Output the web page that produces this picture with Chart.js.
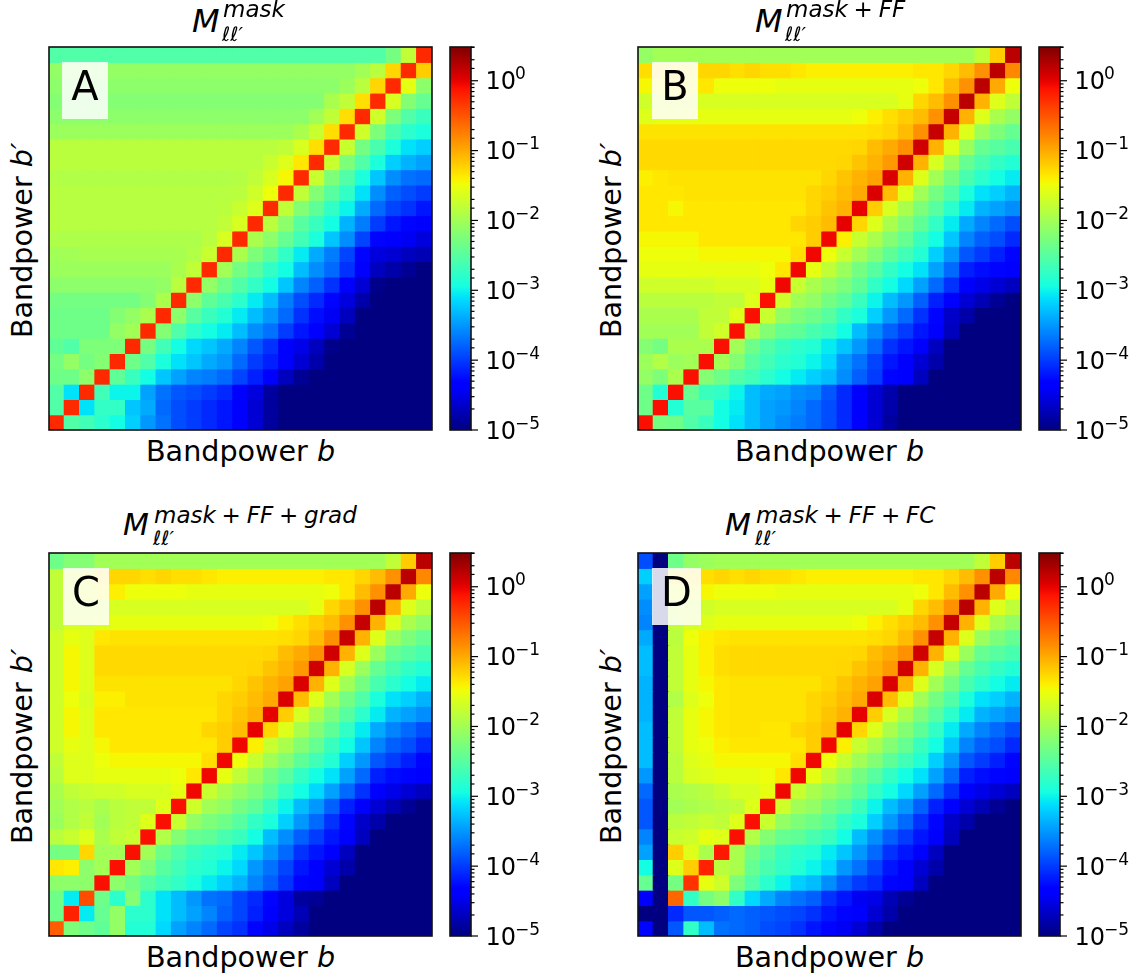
<!DOCTYPE html>
<html>
<head>
<meta charset="utf-8">
<script src="https://cdn.jsdelivr.net/npm/chart.js@4"></script>
<style>
  body { margin: 0; background: #fff; font-family: "DejaVu Sans", sans-serif; color: #000; }
  #page { position: relative; width: 1141px; height: 979px; overflow: hidden; }
  canvas { position: absolute; }
  .txt { position: absolute; white-space: pre; line-height: 1; }
  .badge { position: absolute; background: rgba(255,255,255,0.85); text-align: center; font-size: 40px; line-height: 49px; }
  i { font-style: oblique; }
</style>
</head>
<body>
<div id="page"></div>
<script>
"use strict";
// every number below is log10 of the matrix value
// rows go top to bottom, columns left to right
const panelA = [
  [-2.55,-2.55,-2.55,-2.55,-2.55,-2.55,-2.55,-2.55,-2.55,-2.55,-2.55,-2.55,-2.55,-2.55,-2.55,-2.55,-2.55,-2.55,-2.55,-2.55,-2.55,-2.55,-2.3,-1.8,-0.25],
  [-2.1,-2.1,-2.1,-2.1,-2.1,-2.1,-2.1,-2.1,-2.1,-2.1,-2.1,-2.1,-2.1,-2.1,-2.1,-2.1,-2.1,-2.1,-2.1,-2.1,-2.0,-1.85,-1.25,-0.25,-1.2],
  [-2.15,-2.15,-2.15,-2.15,-2.15,-2.15,-2.15,-2.15,-2.15,-2.15,-2.15,-2.15,-2.15,-2.15,-2.15,-2.15,-2.15,-2.15,-2.15,-2.05,-1.85,-1.25,-0.25,-1.55,-2.15],
  [-2.2,-2.2,-2.2,-2.2,-2.2,-2.2,-2.2,-2.2,-2.2,-2.2,-2.2,-2.2,-2.2,-2.2,-2.2,-2.2,-2.2,-2.2,-1.95,-1.8,-1.3,-0.25,-1.65,-2.2,-2.4],
  [-2.15,-2.15,-2.15,-2.15,-2.15,-2.15,-2.15,-2.15,-2.15,-2.15,-2.15,-2.15,-2.15,-2.15,-2.15,-2.15,-2.15,-2.0,-1.8,-1.3,-0.25,-1.7,-2.25,-2.55,-2.7],
  [-2.05,-2.05,-2.05,-2.05,-2.05,-2.05,-2.05,-2.05,-2.05,-2.05,-2.05,-2.05,-2.05,-2.05,-2.05,-2.05,-1.95,-1.75,-1.3,-0.25,-1.7,-2.25,-2.6,-2.8,-2.9],
  [-1.85,-1.85,-1.85,-1.85,-1.85,-1.85,-1.85,-1.85,-1.85,-1.85,-1.85,-1.85,-1.85,-1.85,-1.85,-1.8,-1.65,-1.3,-0.25,-1.75,-2.3,-2.6,-2.9,-3.1,-3.2],
  [-1.85,-1.85,-1.85,-1.85,-1.85,-1.85,-1.85,-1.85,-1.85,-1.85,-1.85,-1.85,-1.85,-1.85,-1.75,-1.6,-1.35,-0.25,-1.75,-2.25,-2.55,-2.9,-3.2,-3.35,-3.45],
  [-1.9,-1.9,-1.9,-1.9,-1.9,-1.9,-1.9,-1.9,-1.9,-1.9,-1.9,-1.9,-1.88,-1.8,-1.65,-1.45,-0.25,-1.75,-2.25,-2.55,-2.9,-3.25,-3.55,-3.7,-3.75],
  [-1.87,-1.87,-1.87,-1.87,-1.87,-1.87,-1.87,-1.87,-1.87,-1.87,-1.87,-1.87,-1.85,-1.7,-1.5,-0.25,-1.8,-2.2,-2.5,-2.75,-3.1,-3.55,-3.8,-3.9,-4.0],
  [-1.87,-1.87,-1.87,-1.87,-1.87,-1.87,-1.87,-1.87,-1.87,-1.87,-1.87,-1.85,-1.75,-1.6,-0.25,-1.8,-2.2,-2.45,-2.75,-3.0,-3.4,-3.75,-3.95,-4.05,-4.2],
  [-1.87,-1.87,-1.87,-1.87,-1.87,-1.87,-1.87,-1.87,-1.87,-1.87,-1.87,-1.8,-1.65,-0.25,-1.85,-2.15,-2.5,-2.7,-2.95,-3.35,-3.65,-4.0,-4.2,-4.3,-4.4],
  [-1.92,-1.92,-1.92,-1.92,-1.92,-1.92,-1.92,-1.92,-1.92,-1.92,-1.85,-1.65,-0.25,-1.95,-2.15,-2.4,-2.65,-2.9,-3.25,-3.55,-3.95,-4.3,-4.4,-4.45,-4.55],
  [-2.0,-2.0,-1.97,-1.97,-1.97,-1.97,-1.97,-1.97,-1.97,-1.9,-1.75,-0.25,-1.95,-2.25,-2.45,-2.75,-3.05,-3.4,-3.65,-3.95,-4.3,-4.55,-4.6,-4.7,-4.75],
  [-2.05,-2.05,-2.05,-2.05,-2.05,-2.05,-2.05,-2.05,-1.95,-1.8,-0.25,-2.0,-2.3,-2.5,-2.75,-2.95,-3.3,-3.55,-3.75,-4.05,-4.4,-4.7,-4.8,-4.9,-5],
  [-2.15,-2.15,-2.15,-2.15,-2.15,-2.15,-2.15,-2.1,-1.85,-0.25,-2.1,-2.35,-2.55,-2.75,-2.95,-3.25,-3.6,-3.8,-4.05,-4.4,-4.6,-4.95,-5,-5,-5],
  [-2.3,-2.3,-2.3,-2.3,-2.3,-2.3,-2.2,-1.95,-0.25,-2.15,-2.45,-2.6,-2.8,-3.05,-3.3,-3.65,-3.9,-4.1,-4.3,-4.55,-4.8,-5,-5,-5,-5],
  [-2.35,-2.35,-2.35,-2.35,-2.2,-2.1,-1.95,-0.25,-2.15,-2.5,-2.7,-2.85,-3.05,-3.3,-3.5,-3.75,-4.05,-4.25,-4.45,-4.7,-5,-5,-5,-5,-5],
  [-2.35,-2.35,-2.35,-2.35,-2.1,-2.0,-0.25,-2.2,-2.55,-2.8,-2.95,-3.05,-3.3,-3.55,-3.7,-4.0,-4.2,-4.4,-4.6,-4.9,-5,-5,-5,-5,-5],
  [-2.45,-2.55,-2.25,-2.25,-2.25,-0.25,-2.3,-2.65,-2.95,-3.15,-3.25,-3.4,-3.6,-3.85,-4.05,-4.4,-4.5,-4.7,-4.95,-5,-5,-5,-5,-5,-5],
  [-2.3,-2.1,-2.3,-2.2,-0.25,-2.35,-2.55,-2.9,-3.1,-3.25,-3.4,-3.5,-3.75,-4.0,-4.15,-4.4,-4.6,-4.8,-5,-5,-5,-5,-5,-5,-5],
  [-2.35,-2.35,-2.15,-0.25,-2.45,-2.7,-2.95,-3.25,-3.45,-3.6,-3.65,-3.75,-3.95,-4.15,-4.4,-4.7,-4.9,-5,-5,-5,-5,-5,-5,-5,-5],
  [-2.55,-3.1,-0.25,-2.65,-3.0,-3.0,-3.45,-3.7,-3.85,-3.9,-4.0,-4.1,-4.35,-4.55,-4.85,-5,-5,-5,-5,-5,-5,-5,-5,-5,-5],
  [-2.55,-0.25,-3.1,-2.75,-2.75,-3.25,-3.4,-3.75,-3.9,-4.0,-4.1,-4.2,-4.35,-4.6,-4.85,-5,-5,-5,-5,-5,-5,-5,-5,-5,-5],
  [-0.25,-2.55,-2.65,-2.8,-2.95,-3.2,-3.5,-3.7,-3.9,-4.0,-4.1,-4.2,-4.4,-4.6,-4.85,-5,-5,-5,-5,-5,-5,-5,-5,-5,-5]
];
const panelB = [
  [-2.1,-2.0,-2.0,-2.0,-2.0,-2.0,-2.0,-2.0,-2.0,-2.0,-2.0,-2.0,-2.0,-2.0,-2.0,-2.0,-2.0,-2.0,-2.0,-2.0,-2.0,-2.0,-1.8,-1.2,0.2],
  [-1.3,-1.3,-1.35,-1.35,-1.25,-1.25,-1.3,-1.25,-1.3,-1.3,-1.35,-1.4,-1.4,-1.4,-1.4,-1.4,-1.4,-1.4,-1.35,-1.35,-1.25,-1.1,-0.85,0.2,-0.8],
  [-1.45,-1.45,-1.45,-1.45,-1.35,-1.5,-1.5,-1.5,-1.5,-1.55,-1.55,-1.55,-1.55,-1.55,-1.55,-1.55,-1.55,-1.55,-1.5,-1.35,-1.1,-0.85,0.2,-1.0,-1.5],
  [-1.7,-1.65,-1.65,-1.65,-1.65,-1.65,-1.65,-1.65,-1.65,-1.65,-1.65,-1.65,-1.65,-1.65,-1.65,-1.65,-1.65,-1.55,-1.25,-1.1,-0.85,0.2,-1.05,-1.6,-1.8],
  [-1.6,-1.55,-1.55,-1.55,-1.55,-1.55,-1.55,-1.55,-1.55,-1.55,-1.55,-1.55,-1.55,-1.55,-1.5,-1.4,-1.3,-1.2,-1.1,-0.85,0.15,-1.05,-1.6,-1.95,-2.1],
  [-1.33,-1.33,-1.33,-1.33,-1.33,-1.33,-1.33,-1.33,-1.33,-1.33,-1.33,-1.33,-1.33,-1.33,-1.33,-1.3,-1.25,-1.1,-0.85,0.15,-1.05,-1.6,-2.05,-2.25,-2.4],
  [-1.27,-1.27,-1.27,-1.27,-1.27,-1.27,-1.27,-1.27,-1.27,-1.27,-1.27,-1.27,-1.27,-1.27,-1.25,-1.1,-1.0,-0.85,0.1,-1.05,-1.6,-2.05,-2.4,-2.5,-2.6],
  [-1.27,-1.27,-1.27,-1.27,-1.27,-1.27,-1.27,-1.27,-1.27,-1.27,-1.27,-1.27,-1.27,-1.25,-1.15,-1.05,-0.9,0.1,-1.05,-1.65,-2.05,-2.4,-2.6,-2.75,-2.85],
  [-1.4,-1.35,-1.33,-1.33,-1.33,-1.33,-1.33,-1.33,-1.33,-1.33,-1.33,-1.33,-1.25,-1.15,-1.05,-0.95,0.05,-1.05,-1.6,-2.0,-2.3,-2.6,-2.8,-2.95,-3.05],
  [-1.35,-1.35,-1.35,-1.33,-1.33,-1.33,-1.33,-1.33,-1.33,-1.33,-1.33,-1.25,-1.2,-1.1,-1.0,0.05,-1.1,-1.6,-2.0,-2.3,-2.55,-2.9,-3.1,-3.2,-3.35],
  [-1.35,-1.35,-1.45,-1.35,-1.35,-1.35,-1.35,-1.35,-1.35,-1.35,-1.35,-1.25,-1.15,-1.05,0,-1.2,-1.65,-1.95,-2.25,-2.5,-2.8,-3.05,-3.35,-3.45,-3.55],
  [-1.35,-1.35,-1.35,-1.35,-1.35,-1.35,-1.35,-1.35,-1.35,-1.35,-1.25,-1.2,-1.1,0,-1.25,-1.6,-1.95,-2.2,-2.45,-2.75,-3.05,-3.4,-3.6,-3.75,-3.9],
  [-1.45,-1.45,-1.45,-1.45,-1.35,-1.35,-1.35,-1.35,-1.35,-1.35,-1.35,-1.2,-0.05,-1.4,-1.75,-1.95,-2.2,-2.4,-2.7,-2.95,-3.25,-3.6,-3.8,-3.9,-4.1],
  [-1.5,-1.5,-1.5,-1.5,-1.45,-1.45,-1.45,-1.45,-1.45,-1.45,-1.3,-0.05,-1.5,-1.75,-2.0,-2.2,-2.45,-2.65,-2.85,-3.2,-3.5,-3.85,-4.0,-4.15,-4.3],
  [-1.55,-1.55,-1.55,-1.55,-1.55,-1.55,-1.55,-1.55,-1.5,-1.35,-0.05,-1.55,-1.8,-2.05,-2.3,-2.5,-2.75,-2.95,-3.1,-3.45,-3.75,-4.15,-4.25,-4.3,-4.4],
  [-1.7,-1.7,-1.7,-1.7,-1.7,-1.65,-1.65,-1.65,-1.55,-0.05,-1.75,-1.95,-2.1,-2.25,-2.45,-2.75,-2.95,-3.15,-3.45,-3.75,-4.05,-4.4,-4.5,-4.6,-4.7],
  [-1.85,-1.85,-1.85,-1.85,-1.85,-1.8,-1.8,-1.6,-0.1,-1.7,-2.0,-2.1,-2.3,-2.45,-2.7,-3.0,-3.3,-3.5,-3.8,-4.15,-4.4,-4.6,-4.75,-4.9,-5],
  [-1.95,-1.95,-1.95,-1.95,-1.8,-1.8,-1.6,-0.1,-1.75,-2.1,-2.25,-2.35,-2.5,-2.75,-2.9,-3.2,-3.5,-3.75,-4.05,-4.3,-4.65,-4.8,-5,-5,-5],
  [-2.0,-2.0,-2.0,-2.0,-1.8,-1.7,-0.1,-1.9,-2.2,-2.4,-2.45,-2.6,-2.7,-2.95,-3.3,-3.55,-3.8,-4.0,-4.2,-4.4,-4.7,-5,-5,-5,-5],
  [-2.2,-2.3,-1.95,-1.95,-1.95,-0.1,-2.0,-2.35,-2.55,-2.7,-2.8,-2.85,-3.05,-3.25,-3.5,-3.75,-4.05,-4.2,-4.4,-4.7,-5,-5,-5,-5,-5],
  [-2.05,-1.9,-2.05,-2.0,-0.1,-2.0,-2.2,-2.5,-2.65,-2.8,-2.85,-3.0,-3.15,-3.5,-3.7,-3.95,-4.2,-4.4,-4.6,-4.8,-5,-5,-5,-5,-5],
  [-2.1,-2.25,-1.95,-0.1,-2.2,-2.35,-2.55,-2.65,-2.8,-2.95,-3.05,-3.2,-3.3,-3.55,-3.8,-4.0,-4.3,-4.4,-4.7,-5,-5,-5,-5,-5,-5],
  [-2.35,-2.85,-0.1,-2.4,-2.7,-2.75,-3.0,-3.3,-3.4,-3.45,-3.55,-3.6,-3.85,-4.1,-4.4,-4.6,-4.8,-5,-5,-5,-5,-5,-5,-5,-5],
  [-2.35,-0.1,-2.85,-2.5,-2.5,-2.95,-3.05,-3.3,-3.45,-3.5,-3.6,-3.75,-3.9,-4.1,-4.35,-4.6,-4.8,-5,-5,-5,-5,-5,-5,-5,-5],
  [-0.1,-2.3,-2.35,-2.55,-2.7,-2.95,-3.1,-3.3,-3.45,-3.55,-3.65,-3.75,-3.9,-4.1,-4.4,-4.6,-4.85,-5,-5,-5,-5,-5,-5,-5,-5]
];
const panelC = [
  [-2.35,-2.2,-2.2,-2.0,-2.0,-2.0,-2.0,-2.0,-2.0,-2.0,-2.0,-2.0,-2.0,-2.0,-2.0,-2.0,-2.0,-2.0,-2.0,-2.0,-2.0,-2.0,-1.8,-1.2,0.2],
  [-1.8,-1.65,-1.6,-1.3,-1.25,-1.25,-1.3,-1.25,-1.3,-1.3,-1.35,-1.4,-1.4,-1.4,-1.4,-1.4,-1.4,-1.4,-1.35,-1.35,-1.25,-1.1,-0.85,0.2,-0.8],
  [-1.8,-1.65,-1.6,-1.45,-1.4,-1.5,-1.5,-1.5,-1.5,-1.55,-1.55,-1.55,-1.55,-1.55,-1.55,-1.55,-1.55,-1.55,-1.5,-1.35,-1.1,-0.85,0.2,-1.0,-1.5],
  [-1.8,-1.7,-1.7,-1.7,-1.65,-1.65,-1.65,-1.65,-1.65,-1.65,-1.65,-1.65,-1.65,-1.65,-1.65,-1.65,-1.65,-1.55,-1.25,-1.1,-0.85,0.2,-1.05,-1.6,-1.8],
  [-1.8,-1.65,-1.65,-1.6,-1.55,-1.55,-1.55,-1.55,-1.55,-1.55,-1.55,-1.55,-1.55,-1.55,-1.5,-1.4,-1.3,-1.2,-1.1,-0.85,0.15,-1.05,-1.6,-1.95,-2.1],
  [-1.7,-1.55,-1.6,-1.35,-1.33,-1.33,-1.33,-1.33,-1.33,-1.33,-1.33,-1.33,-1.33,-1.33,-1.33,-1.3,-1.25,-1.1,-0.85,0.15,-1.05,-1.6,-2.05,-2.25,-2.4],
  [-1.7,-1.45,-1.6,-1.27,-1.27,-1.27,-1.27,-1.27,-1.27,-1.27,-1.27,-1.27,-1.27,-1.27,-1.25,-1.1,-1.0,-0.85,0.1,-1.05,-1.6,-2.05,-2.4,-2.5,-2.6],
  [-1.7,-1.45,-1.6,-1.27,-1.27,-1.27,-1.27,-1.27,-1.27,-1.27,-1.27,-1.27,-1.27,-1.25,-1.15,-1.05,-0.9,0.1,-1.05,-1.65,-2.05,-2.4,-2.6,-2.75,-2.85],
  [-1.7,-1.45,-1.6,-1.33,-1.33,-1.33,-1.33,-1.33,-1.33,-1.33,-1.33,-1.33,-1.25,-1.15,-1.05,-0.95,0.05,-1.05,-1.6,-2.0,-2.3,-2.6,-2.8,-2.95,-3.05],
  [-1.7,-1.5,-1.65,-1.4,-1.4,-1.33,-1.33,-1.33,-1.33,-1.33,-1.33,-1.25,-1.2,-1.1,-1.0,0.05,-1.1,-1.6,-2.0,-2.3,-2.55,-2.9,-3.1,-3.2,-3.35],
  [-1.7,-1.45,-1.6,-1.35,-1.35,-1.35,-1.35,-1.35,-1.35,-1.35,-1.35,-1.25,-1.15,-1.05,0,-1.2,-1.65,-1.95,-2.25,-2.5,-2.8,-3.05,-3.35,-3.45,-3.55],
  [-1.7,-1.45,-1.6,-1.35,-1.35,-1.35,-1.35,-1.35,-1.35,-1.35,-1.25,-1.2,-1.1,0,-1.25,-1.6,-1.95,-2.2,-2.45,-2.75,-3.05,-3.4,-3.6,-3.75,-3.9],
  [-1.7,-1.55,-1.6,-1.45,-1.35,-1.35,-1.35,-1.35,-1.35,-1.35,-1.35,-1.2,-0.05,-1.4,-1.75,-1.95,-2.2,-2.4,-2.7,-2.95,-3.25,-3.6,-3.8,-3.9,-4.1],
  [-1.8,-1.6,-1.6,-1.5,-1.45,-1.45,-1.45,-1.45,-1.45,-1.45,-1.3,-0.05,-1.5,-1.75,-2.0,-2.2,-2.45,-2.65,-2.85,-3.2,-3.5,-3.85,-4.0,-4.15,-4.3],
  [-1.85,-1.6,-1.6,-1.55,-1.55,-1.55,-1.55,-1.55,-1.5,-1.35,-0.05,-1.55,-1.8,-2.05,-2.3,-2.5,-2.75,-2.95,-3.1,-3.45,-3.75,-4.15,-4.25,-4.3,-4.4],
  [-1.95,-1.8,-1.75,-1.7,-1.7,-1.65,-1.65,-1.65,-1.55,-0.05,-1.75,-1.95,-2.1,-2.25,-2.45,-2.75,-2.95,-3.15,-3.45,-3.75,-4.05,-4.4,-4.5,-4.6,-4.7],
  [-2.0,-1.9,-1.85,-1.95,-1.85,-1.8,-1.8,-1.6,-0.1,-1.7,-2.0,-2.1,-2.3,-2.45,-2.7,-3.0,-3.3,-3.5,-3.8,-4.15,-4.4,-4.6,-4.75,-4.9,-5],
  [-2.05,-1.9,-1.8,-2.0,-1.85,-1.8,-1.6,-0.1,-1.75,-2.1,-2.25,-2.35,-2.5,-2.75,-2.9,-3.2,-3.5,-3.75,-4.05,-4.3,-4.65,-4.8,-5,-5,-5],
  [-1.85,-1.75,-1.6,-1.95,-1.8,-1.75,-0.1,-1.9,-2.2,-2.4,-2.45,-2.6,-2.7,-2.95,-3.3,-3.55,-3.8,-4.0,-4.2,-4.4,-4.7,-5,-5,-5,-5],
  [-2.3,-2.3,-1.25,-2.0,-2.0,-0.1,-2.0,-2.35,-2.55,-2.7,-2.8,-2.85,-3.05,-3.25,-3.5,-3.75,-4.05,-4.2,-4.4,-4.7,-5,-5,-5,-5,-5],
  [-1.35,-1.4,-2.15,-2.0,-0.1,-2.0,-2.2,-2.5,-2.65,-2.8,-2.85,-3.0,-3.15,-3.5,-3.7,-3.95,-4.2,-4.4,-4.6,-4.8,-5,-5,-5,-5,-5],
  [-2.15,-2.15,-2.15,-0.1,-2.15,-2.3,-2.5,-2.65,-2.75,-2.9,-3.05,-3.2,-3.35,-3.6,-3.8,-4.05,-4.3,-4.4,-4.7,-5,-5,-5,-5,-5,-5],
  [-2.35,-3.05,-0.45,-2.35,-2.8,-2.2,-2.8,-3.1,-3.3,-3.5,-3.7,-3.75,-3.95,-4.1,-4.3,-4.55,-4.85,-4.9,-5,-5,-5,-5,-5,-5,-5],
  [-2.35,-0.2,-3.05,-2.4,-2.1,-2.8,-2.8,-3.1,-3.3,-3.45,-3.6,-3.8,-3.95,-4.15,-4.4,-4.55,-4.75,-5,-5,-5,-5,-5,-5,-5,-5],
  [-0.55,-2.25,-2.35,-2.45,-2.1,-2.85,-2.85,-3.15,-3.45,-3.6,-3.75,-3.95,-4.05,-4.3,-4.5,-4.7,-4.85,-5,-5,-5,-5,-5,-5,-5,-5]
];
const panelD = [
  [-3.9,-5,-2.35,-2.1,-2.05,-2.0,-2.0,-2.0,-2.0,-2.0,-2.0,-2.0,-2.0,-2.0,-2.0,-2.0,-2.0,-2.0,-2.0,-2.0,-2.0,-2.0,-1.8,-1.2,0.2],
  [-3.2,-5,-1.3,-1.3,-1.3,-1.25,-1.3,-1.25,-1.3,-1.3,-1.35,-1.4,-1.4,-1.4,-1.4,-1.4,-1.4,-1.4,-1.35,-1.35,-1.25,-1.1,-0.85,0.2,-0.8],
  [-3.45,-5,-1.6,-1.55,-1.45,-1.5,-1.5,-1.5,-1.5,-1.55,-1.55,-1.55,-1.55,-1.55,-1.55,-1.55,-1.55,-1.55,-1.5,-1.35,-1.1,-0.85,0.2,-1.0,-1.5],
  [-3.55,-5,-1.7,-1.7,-1.7,-1.65,-1.65,-1.65,-1.65,-1.65,-1.65,-1.65,-1.65,-1.65,-1.65,-1.65,-1.65,-1.55,-1.25,-1.1,-0.85,0.2,-1.05,-1.6,-1.8],
  [-3.6,-5,-1.8,-1.65,-1.6,-1.55,-1.55,-1.55,-1.55,-1.55,-1.55,-1.55,-1.55,-1.55,-1.5,-1.4,-1.3,-1.2,-1.1,-0.85,0.15,-1.05,-1.6,-1.95,-2.1],
  [-3.4,-5,-1.85,-1.5,-1.4,-1.35,-1.33,-1.33,-1.33,-1.33,-1.33,-1.33,-1.33,-1.33,-1.33,-1.3,-1.25,-1.1,-0.85,0.15,-1.05,-1.6,-2.05,-2.25,-2.4],
  [-3.3,-5,-1.8,-1.55,-1.4,-1.3,-1.27,-1.27,-1.27,-1.27,-1.27,-1.27,-1.27,-1.27,-1.25,-1.1,-1.0,-0.85,0.1,-1.05,-1.6,-2.05,-2.4,-2.5,-2.6],
  [-3.3,-5,-1.8,-1.55,-1.4,-1.3,-1.27,-1.27,-1.27,-1.27,-1.27,-1.27,-1.27,-1.25,-1.15,-1.05,-0.9,0.1,-1.05,-1.65,-2.05,-2.4,-2.6,-2.75,-2.85],
  [-3.35,-5,-1.8,-1.55,-1.45,-1.35,-1.33,-1.33,-1.33,-1.33,-1.33,-1.33,-1.25,-1.15,-1.05,-0.95,0.05,-1.05,-1.6,-2.0,-2.3,-2.6,-2.8,-2.95,-3.05],
  [-3.35,-5,-1.9,-1.6,-1.5,-1.35,-1.33,-1.33,-1.33,-1.33,-1.33,-1.25,-1.2,-1.1,-1.0,0.05,-1.1,-1.6,-2.0,-2.3,-2.55,-2.9,-3.1,-3.2,-3.35],
  [-3.35,-5,-1.8,-1.55,-1.45,-1.35,-1.33,-1.33,-1.33,-1.33,-1.33,-1.25,-1.15,-1.05,0,-1.2,-1.65,-1.95,-2.25,-2.5,-2.8,-3.05,-3.35,-3.45,-3.55],
  [-3.3,-5,-1.8,-1.55,-1.45,-1.35,-1.33,-1.33,-1.35,-1.35,-1.25,-1.2,-1.1,0,-1.25,-1.6,-1.95,-2.2,-2.45,-2.75,-3.05,-3.4,-3.6,-3.75,-3.9],
  [-3.3,-5,-1.8,-1.55,-1.5,-1.4,-1.35,-1.35,-1.35,-1.35,-1.35,-1.2,-0.05,-1.4,-1.75,-1.95,-2.2,-2.4,-2.7,-2.95,-3.25,-3.6,-3.8,-3.9,-4.1],
  [-3.3,-5,-1.85,-1.6,-1.55,-1.45,-1.45,-1.45,-1.45,-1.45,-1.3,-0.05,-1.5,-1.75,-2.0,-2.2,-2.45,-2.65,-2.85,-3.2,-3.5,-3.85,-4.0,-4.15,-4.3],
  [-3.5,-5,-1.85,-1.65,-1.6,-1.55,-1.55,-1.55,-1.5,-1.35,-0.05,-1.55,-1.8,-2.05,-2.3,-2.5,-2.75,-2.95,-3.1,-3.45,-3.75,-4.15,-4.25,-4.3,-4.4],
  [-3.75,-5,-1.95,-1.9,-1.85,-1.75,-1.65,-1.65,-1.55,-0.05,-1.75,-1.95,-2.1,-2.25,-2.45,-2.75,-2.95,-3.15,-3.45,-3.75,-4.05,-4.4,-4.5,-4.6,-4.7],
  [-3.85,-5,-2.0,-1.95,-1.9,-1.85,-1.8,-1.6,-0.1,-1.7,-2.0,-2.1,-2.3,-2.45,-2.7,-3.0,-3.3,-3.5,-3.8,-4.15,-4.4,-4.6,-4.75,-4.9,-5],
  [-3.85,-5,-1.85,-1.8,-1.75,-1.8,-1.6,-0.1,-1.75,-2.1,-2.25,-2.35,-2.5,-2.75,-2.9,-3.2,-3.5,-3.75,-4.05,-4.3,-4.65,-4.8,-5,-5,-5],
  [-3.6,-5,-1.75,-1.7,-1.55,-1.6,-0.1,-1.9,-2.2,-2.4,-2.45,-2.6,-2.7,-2.95,-3.3,-3.55,-3.8,-4.0,-4.2,-4.4,-4.7,-5,-5,-5,-5],
  [-3.45,-5,-1.2,-1.6,-1.95,-0.15,-1.95,-2.3,-2.5,-2.7,-2.8,-2.85,-3.05,-3.25,-3.5,-3.75,-4.05,-4.2,-4.4,-4.7,-5,-5,-5,-5,-5],
  [-2.95,-5,-1.6,-1.2,-0.2,-1.85,-1.95,-2.4,-2.6,-2.75,-2.85,-3.0,-3.15,-3.5,-3.7,-3.95,-4.2,-4.4,-4.6,-4.8,-5,-5,-5,-5,-5],
  [-2.4,-5,-2.3,-0.3,-1.55,-1.7,-2.25,-2.55,-2.8,-3.0,-3.2,-3.3,-3.55,-3.8,-4.0,-4.1,-4.3,-4.4,-4.7,-5,-5,-5,-5,-5,-5],
  [-4.4,-5,-0.6,-2.75,-2.3,-2.15,-2.75,-3.15,-3.4,-3.6,-3.7,-3.8,-4.05,-4.2,-4.45,-4.5,-4.75,-4.9,-5,-5,-5,-5,-5,-5,-5],
  [-5,-5,-4.1,-3.85,-3.85,-3.8,-3.75,-3.8,-3.85,-3.9,-3.95,-4.05,-4.2,-4.3,-4.4,-4.6,-4.8,-5,-5,-5,-5,-5,-5,-5,-5],
  [-4.3,-5,-3.85,-2.75,-3.3,-3.7,-3.75,-3.8,-3.9,-3.95,-4.05,-4.2,-4.3,-4.45,-4.6,-4.8,-5,-5,-5,-5,-5,-5,-5,-5,-5]
];
const bandLabels = panelA.map((_, i) => i);
const colorTicks = [-5, -4, -3, -2, -1, 0];
const logMin = -5;
const logMax = 0.483;

// matplotlib jet, t goes 0..1
const jetChannel = function (t, pts) {
  for (let i = 1; i < pts.length; i++) {
    if (t <= pts[i][0]) {
      const f = (t - pts[i - 1][0]) / (pts[i][0] - pts[i - 1][0]);
      return pts[i - 1][1] + f * (pts[i][1] - pts[i - 1][1]);
    }
  }
  return pts[pts.length - 1][1];
};
const jet = function (t) {
  const r = jetChannel(t, [[0, 0], [0.35, 0], [0.66, 1], [0.89, 1], [1, 0.5]]);
  const g = jetChannel(t, [[0, 0], [0.125, 0], [0.375, 1], [0.64, 1], [0.91, 0], [1, 0]]);
  const b = jetChannel(t, [[0, 0.5], [0.11, 1], [0.34, 1], [0.65, 0], [1, 0]]);
  return `rgb(${Math.round(r * 255)},${Math.round(g * 255)},${Math.round(b * 255)})`;
};
const colorOf = (v) => jet(Math.min(1, Math.max(0, (v - logMin) / (logMax - logMin))));

const page = document.getElementById("page");
const addCanvas = function (left, top, w, h) {
  const c = document.createElement("canvas");
  c.width = w;
  c.height = h;
  c.style.left = left + "px";
  c.style.top = top + "px";
  c.style.width = w + "px";
  c.style.height = h + "px";
  page.appendChild(c);
  return c;
};
const addText = function (html, left, top, size, extra) {
  const d = document.createElement("div");
  d.className = "txt";
  d.innerHTML = html;
  d.style.left = left + "px";
  d.style.top = top + "px";
  d.style.fontSize = size + "px";
  if (extra) d.style.cssText += extra;
  page.appendChild(d);
  return d;
};

// outline round the plot area
const framePlugin = {
  id: "frame",
  afterDraw(chart) {
    const a = chart.chartArea;
    const ctx = chart.ctx;
    ctx.save();
    ctx.strokeStyle = "#111";
    ctx.lineWidth = 1.6;
    ctx.strokeRect(a.left, a.top, a.right - a.left, a.bottom - a.top);
    ctx.restore();
  },
};
// long ticks on decades, short ones in between, then the 10^n labels
const logTicksPlugin = {
  id: "logTicks",
  afterDraw(chart) {
    const y = chart.scales.y;
    const ctx = chart.ctx;
    const x0 = chart.chartArea.right;
    ctx.save();
    ctx.strokeStyle = "#000";
    ctx.lineWidth = 1.2;
    y.ticks.forEach((tk) => {
      const lg = Math.log10(tk.value);
      const major = Math.abs(lg - Math.round(lg)) < 1e-6;
      const py = y.getPixelForValue(tk.value);
      ctx.beginPath();
      ctx.moveTo(x0, py);
      ctx.lineTo(x0 + (major ? 7 : 3.5), py);
      ctx.stroke();
    });
    ctx.fillStyle = "#000";
    ctx.textAlign = "left";
    ctx.textBaseline = "alphabetic";
    colorTicks.forEach((lg) => {
      const py = y.getPixelForValue(Math.pow(10, lg));
      ctx.font = '24px "DejaVu Sans"';
      ctx.fillText("10", x0 + 14.5, py + 8.7);
      ctx.font = '17px "DejaVu Sans"';
      ctx.fillText(String(lg).replace("-", "\u2212"), x0 + 44, py - 1.4);
    });
    ctx.restore();
  },
};

const drawHeatmap = function (rows, left, top) {
  const n = rows.length;
  const datasets = rows.map((row, i) => {
    const r = n - 1 - i;
    return {
      // cells overlap by about a pixel so no white seams show between them
      data: row.map(() => [r, r + 1.08]),
      backgroundColor: row.map((v) => colorOf(v)),
      barPercentage: 1.08,
      categoryPercentage: 1,
      borderWidth: 0,
    };
  });
  new Chart(addCanvas(left - 3, top - 3, 389, 389), {
    type: "bar",
    data: { labels: bandLabels, datasets: datasets },
    options: {
      responsive: false,
      animation: false,
      layout: { padding: 3 },
      plugins: { legend: { display: false }, tooltip: { enabled: false } },
      scales: {
        x: { display: false, stacked: true },
        y: { display: false, min: 0.04, max: n + 0.04 },
      },
    },
    plugins: [framePlugin],
  });
};

const drawColorbar = function (left, top) {
  new Chart(addCanvas(left - 3, top - 20, 96, 424), {
    type: "bar",
    data: {
      labels: [""],
      datasets: [
        {
          data: [[Math.pow(10, logMin), Math.pow(10, logMax)]],
          barPercentage: 1,
          categoryPercentage: 1,
          borderWidth: 0,
          backgroundColor(c) {
            const a = c.chart.chartArea;
            if (!a) return "#000";
            const g = c.chart.ctx.createLinearGradient(0, a.bottom, 0, a.top);
            for (let i = 0; i <= 64; i++) g.addColorStop(i / 64, jet(i / 64));
            return g;
          },
        },
      ],
    },
    options: {
      responsive: false,
      animation: false,
      layout: { padding: { left: 3, top: 20, bottom: 21, right: 0 } },
      plugins: { legend: { display: false }, tooltip: { enabled: false } },
      scales: {
        x: { display: false },
        y: {
          type: "logarithmic",
          position: "right",
          min: Math.pow(10, logMin),
          max: Math.pow(10, logMax),
          afterFit(s) { s.width = 72; },
          grid: { display: false, drawTicks: false },
          border: { display: false },
          ticks: { display: false, autoSkip: false },
        },
      },
    },
    plugins: [framePlugin, logTicksPlugin],
  });
};

const addTitle = function (sup, left, baseline, mSize, supRise, subDrop) {
  addText("<i>M</i>", left, baseline - 0.846 * mSize, mSize);
  addText(`<i>${sup}</i>`, left + 31, baseline - supRise - 19.5, 23, "word-spacing:-1.5px;");
  addText("<i>ℓℓ′</i>", left + 30, baseline + subDrop - 17, 20);
};
const addBadge = function (letter, left, top, w) {
  const d = document.createElement("div");
  d.className = "badge";
  d.textContent = letter;
  d.style.left = left + "px";
  d.style.top = top + "px";
  d.style.width = w + "px";
  d.style.height = "57px";
  page.appendChild(d);
};
const addAxisLabels = function (left, top) {
  addText("Bandpower <i>b</i>", left + 97, top + 390, 28.6);
  addText("Bandpower <i>b′</i>", left - 127, top + 179, 28.6, "transform:rotate(-90deg);width:200px;text-align:center;");
};

const panels = [
  { rows: panelA, left: 49, top: 47, letter: "A", badgeX: 62, badgeW: 46, sup: "mask", titleX: 192, titleY: 32, mSize: 32, supRise: 14.5, subDrop: 9 },
  { rows: panelB, left: 638, top: 47, letter: "B", badgeX: 652, badgeW: 46, sup: "mask + FF", titleX: 755, titleY: 32, mSize: 32, supRise: 14.5, subDrop: 9 },
  { rows: panelC, left: 49, top: 553, letter: "C", badgeX: 63, badgeW: 46, sup: "mask + FF + grad", titleX: 123, titleY: 535, mSize: 30, supRise: 12, subDrop: 10 },
  { rows: panelD, left: 638, top: 553, letter: "D", badgeX: 652, badgeW: 49, sup: "mask + FF + FC", titleX: 725, titleY: 535, mSize: 30, supRise: 12, subDrop: 10 },
];
panels.forEach((p) => {
  drawHeatmap(p.rows, p.left, p.top);
  drawColorbar(p.left + 401, p.top);
  addBadge(p.letter, p.badgeX, p.top + 15, p.badgeW);
  addTitle(p.sup, p.titleX, p.titleY, p.mSize, p.supRise, p.subDrop);
  addAxisLabels(p.left, p.top);
});
</script>
</body>
</html>
